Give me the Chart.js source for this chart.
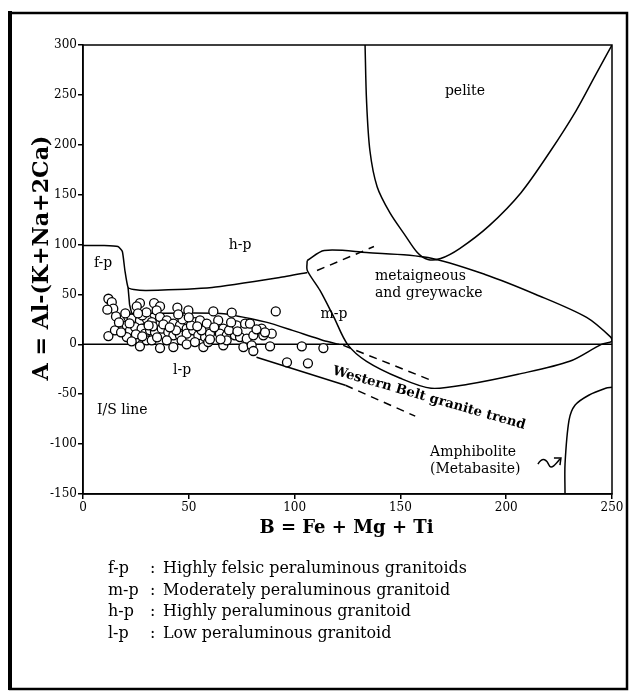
<!DOCTYPE html>
<html>
<head>
<meta charset="utf-8">
<script src="https://cdn.jsdelivr.net/npm/chart.js@4.4.1/dist/chart.umd.min.js"></script>
<style>
html,body{margin:0;padding:0;background:#fff;}
canvas{display:block;}
</style>
</head>
<body>
<canvas id="c" width="636" height="694" style="width:636px;height:694px"></canvas>
<script>
// ---- data ----
const xTicks = [0, 50, 100, 150, 200, 250];
const yTicks = [-150, -100, -50, 0, 50, 100, 150, 200, 250, 300];

const samples = [
 [12.0,45.7],[13.6,42.3],[14.3,35.7],[11.5,34.7],[15.6,28],[26.9,41.3],[25.4,38],[33.6,41.3],[36.4,38],[34.8,34],
 [44.6,36.7],[49.8,34],[61.6,33],[70.3,31.7],[91.1,33],
 [21.4,27.3],[23.0,25.7],[26.9,24],[30.1,25.7],[32.5,22.3],[36.4,27.3],[39.6,24],[42.7,20.7],[45.8,19],[49.0,15.7],
 [52.9,22.3],[55.3,24],[58.5,20.7],[63.9,24],[66.3,15.7],[72.6,19],[76.6,20.7],[78.9,20.7],[84.4,15.7],[89.2,10.7],
 [19.0,17.3],[20.7,19],[22.2,14],[24.6,17.3],[27.7,15.7],[29.3,10.7],[31.7,14],[34.0,12.3],[37.2,15.7],[40.3,12.3],
 [42.7,9],[45.8,9],[49.0,10.7],[52.1,14],[54.5,9],[57.7,7.3],[60.0,10.7],[64.7,10.7],[67.9,9],[71.8,9],
 [74.2,7.3],[77.4,5.7],[80.5,9],[85.2,9],
 [12.0,8.3],[15.1,14],[20.7,7.3],[24.6,5.7],[26.9,-2],[30.1,4],[32.5,4],[36.4,-3.7],[39.6,4],[42.7,-2.7],
 [46.6,4],[49.0,0],[52.9,2.3],[56.9,-2.7],[59.2,2.3],[66.3,-1],[67.9,4],[75.8,-2.7],[79.7,-1],[80.5,-6.7],
 [88.4,-2],[103.4,-2],[113.6,-3.7],[96.4,-18],[106.3,-19],
 [22,21],[25,10],[28,29],[18,12],[33,18],[38,20],[44,14],[47,25],[51,19],[56,14],
 [62,17],[69,14],[73,13],[20,31],[30,32],[65,5],[50,27],[45,30],[86,12],[82,15],
 [17,22],[23,3],[28,8],[35,7],[41,17],[54,18],[60,5],[70,22],[26,31],[31,19]
];

const hpLower   = [[0,99],[10,99],[16.5,98],[18.6,93],[19.8,74],[21.3,57],[24,55],[30,54],[61,57],[93,67],[106,72]];
const fpLpLine  = [[21.3,57],[22,40],[23,31]];
const lpTop     = [[23,31],[65,31],[87,22],[99,14],[115,3],[121,0]];
const isLine    = [[0,0],[250,0]];
const pelite    = [[133.3,300],[134,244],[135.6,194],[139,158],[145,132],[152,110],[158,92],[163,85],[169,86],[178,96],[192,119],[207,152],[221,194],[233,234],[242,269],[250,300]];
const metaBlob  = [[106,84],[114,94],[134,92],[163,87],[190,70],[214,50],[238,27],[249.5,7],[250,3],[245,0],[230,-17],[205.6,-30],[182,-40],[164.5,-44],[150,-34],[134,-17],[125,0],[118.6,27],[112,54],[106,74],[105.9,82],[106,84]];
const mpDash    = [[110.6,74],[137.5,98]];
const wbUpper   = [[123,-1],[164.5,-36]];
const wbLower   = [[82,-13],[124,-41]];
const wbLowerDash = [[124,-41],[157,-72]];
const amphibolite = [[227.8,-150],[227.8,-120],[229.7,-76],[232.5,-61],[239,-51],[247,-44],[250,-43]];

const fieldLabels = [
  {t:'pelite', x:180.5, y:254, a:'center'},
  {t:'h-p', x:74.2, y:99, a:'center'},
  {t:'f-p', x:9.5, y:81, a:'center'},
  {t:'metaigneous', x:138, y:68, a:'left'},
  {t:'and greywacke', x:138, y:51, a:'left'},
  {t:'m-p', x:118.6, y:30, a:'center'},
  {t:'l-p', x:46.8, y:-26, a:'center'},
  {t:'I/S line', x:6.6, y:-66, a:'left'},
  {t:'Amphibolite', x:164, y:-108, a:'left'},
  {t:'(Metabasite)', x:164, y:-125, a:'left'}
];
const trendLabel = {t:'Western Belt granite trend', x:163.5, y:-54, angle:16};
const legendAbbr = ['f-p', 'm-p', 'h-p', 'l-p'];
const legendText = ['Highly felsic peraluminous granitoids', 'Moderately peraluminous granitoid', 'Highly peraluminous granitoid', 'Low peraluminous granitoid'];

const toXY = a => a.map(p => ({x:p[0], y:p[1]}));
const SERIF = '"DejaVu Serif", "Liberation Serif", serif';

function lineDs(arr, opts){
  return Object.assign({type:'scatter', data:toXY(arr), showLine:true, pointRadius:0, borderColor:'#000', borderWidth:1.5, tension:0.3, fill:false}, opts||{});
}
function fitFont(ctx, weight, text, width){
  ctx.font = weight + ' 20px ' + SERIF;
  const w = ctx.measureText(text).width;
  return weight + ' ' + (20*width/w).toFixed(2) + 'px ' + SERIF;
}

const decor = {
  id:'decor',
  afterDraw(chart){
    const ctx = chart.ctx, ca = chart.chartArea, xs = chart.scales.x, ys = chart.scales.y;
    ctx.save();
    ctx.strokeStyle = '#000'; ctx.lineWidth = 1.5;
    ctx.strokeRect(ca.left, ca.top, ca.right-ca.left, ca.bottom-ca.top);
    ctx.lineWidth = 2.5;
    ctx.strokeRect(10, 13, 617, 676);
    ctx.lineWidth = 4;
    ctx.beginPath(); ctx.moveTo(10, 11); ctx.lineTo(10, 690); ctx.stroke();
    ctx.fillStyle = '#000';
    ctx.font = '14px ' + SERIF;
    ctx.textBaseline = 'middle';
    fieldLabels.forEach(l => {
      ctx.textAlign = l.a;
      ctx.fillText(l.t, xs.getPixelForValue(l.x), ys.getPixelForValue(l.y));
    });
    ctx.save();
    ctx.translate(xs.getPixelForValue(trendLabel.x), ys.getPixelForValue(trendLabel.y));
    ctx.rotate(trendLabel.angle*Math.PI/180);
    ctx.font = fitFont(ctx, 'bold', trendLabel.t, 200);
    ctx.textAlign = 'center';
    ctx.fillText(trendLabel.t, 0, 0);
    ctx.restore();
    const ax = xs.getPixelForValue(215), ay = ys.getPixelForValue(-118);
    ctx.lineWidth = 1.5;
    ctx.beginPath();
    ctx.moveTo(ax, ay+2);
    ctx.bezierCurveTo(ax+5, ay-6, ax+9, ay-2, ax+11, ay+3);
    ctx.bezierCurveTo(ax+13, ay+8, ax+18, ay+2, ax+22, ay-3);
    ctx.stroke();
    ctx.beginPath();
    ctx.moveTo(ax+16, ay-4); ctx.lineTo(ax+23, ay-4); ctx.lineTo(ax+22, ay+3);
    ctx.stroke();
    ctx.font = 'bold 18px ' + SERIF;
    ctx.textAlign = 'center';
    ctx.fillText('B = Fe + Mg + Ti', (ca.left+ca.right)/2 - 1, ca.bottom + 34);
    ctx.save();
    ctx.translate(42, 258);
    ctx.rotate(-Math.PI/2);
    ctx.font = fitFont(ctx, 'bold', 'A = Al-(K+Na+2Ca)', 245);
    ctx.fillText('A = Al-(K+Na+2Ca)', 0, 0);
    ctx.restore();
    ctx.font = fitFont(ctx, '', legendText[0], 304);
    ctx.textAlign = 'left';
    legendAbbr.forEach((ab, i) => {
      const y = 569 + i*21.5;
      ctx.fillText(ab, 108, y);
      ctx.fillText(':', 150, y);
      ctx.fillText(legendText[i], 163, y);
    });
    ctx.restore();
  }
};

new Chart(document.getElementById('c'), {
  type:'scatter',
  data:{datasets:[
    {data:toXY(samples), pointRadius:4.5, pointBorderWidth:1.3, pointBackgroundColor:'#fff', pointBorderColor:'#000', showLine:false},
    lineDs(hpLower, {tension:0.15}),
    lineDs(fpLpLine, {tension:0}),
    lineDs(lpTop, {tension:0.2}),
    lineDs(isLine, {tension:0}),
    lineDs(pelite),
    lineDs(metaBlob),
    lineDs(mpDash, {borderDash:[8,6], tension:0}),
    lineDs(wbUpper, {borderDash:[8,6], tension:0}),
    lineDs(wbLower, {tension:0}),
    lineDs(wbLowerDash, {borderDash:[8,6], tension:0}),
    lineDs(amphibolite)
  ]},
  options:{
    responsive:false, animation:false, devicePixelRatio:1,
    layout:{padding:{left:0, top:45, right:24, bottom:0}},
    plugins:{legend:{display:false}, tooltip:{enabled:false}},
    scales:{
      x:{type:'linear', min:0, max:250, afterBuildTicks(s){s.ticks = xTicks.map(v=>({value:v}));},
         afterFit(s){s.height = 200;},
         grid:{display:true, drawOnChartArea:false, tickLength:5, color:'#000', lineWidth:1.5},
         border:{display:true, color:'#000', width:1.5},
         ticks:{color:'#000', font:{family:SERIF, size:12}, padding:2, maxRotation:0}},
      y:{type:'linear', min:-150, max:300, afterBuildTicks(s){s.ticks = yTicks.map(v=>({value:v}));},
         afterFit(s){s.width = 83;},
         grid:{display:true, drawOnChartArea:false, tickLength:5, color:'#000', lineWidth:1.5},
         border:{display:true, color:'#000', width:1.5},
         ticks:{color:'#000', font:{family:SERIF, size:12}, padding:1}}
    }
  },
  plugins:[decor]
});
</script>
</body>
</html>
